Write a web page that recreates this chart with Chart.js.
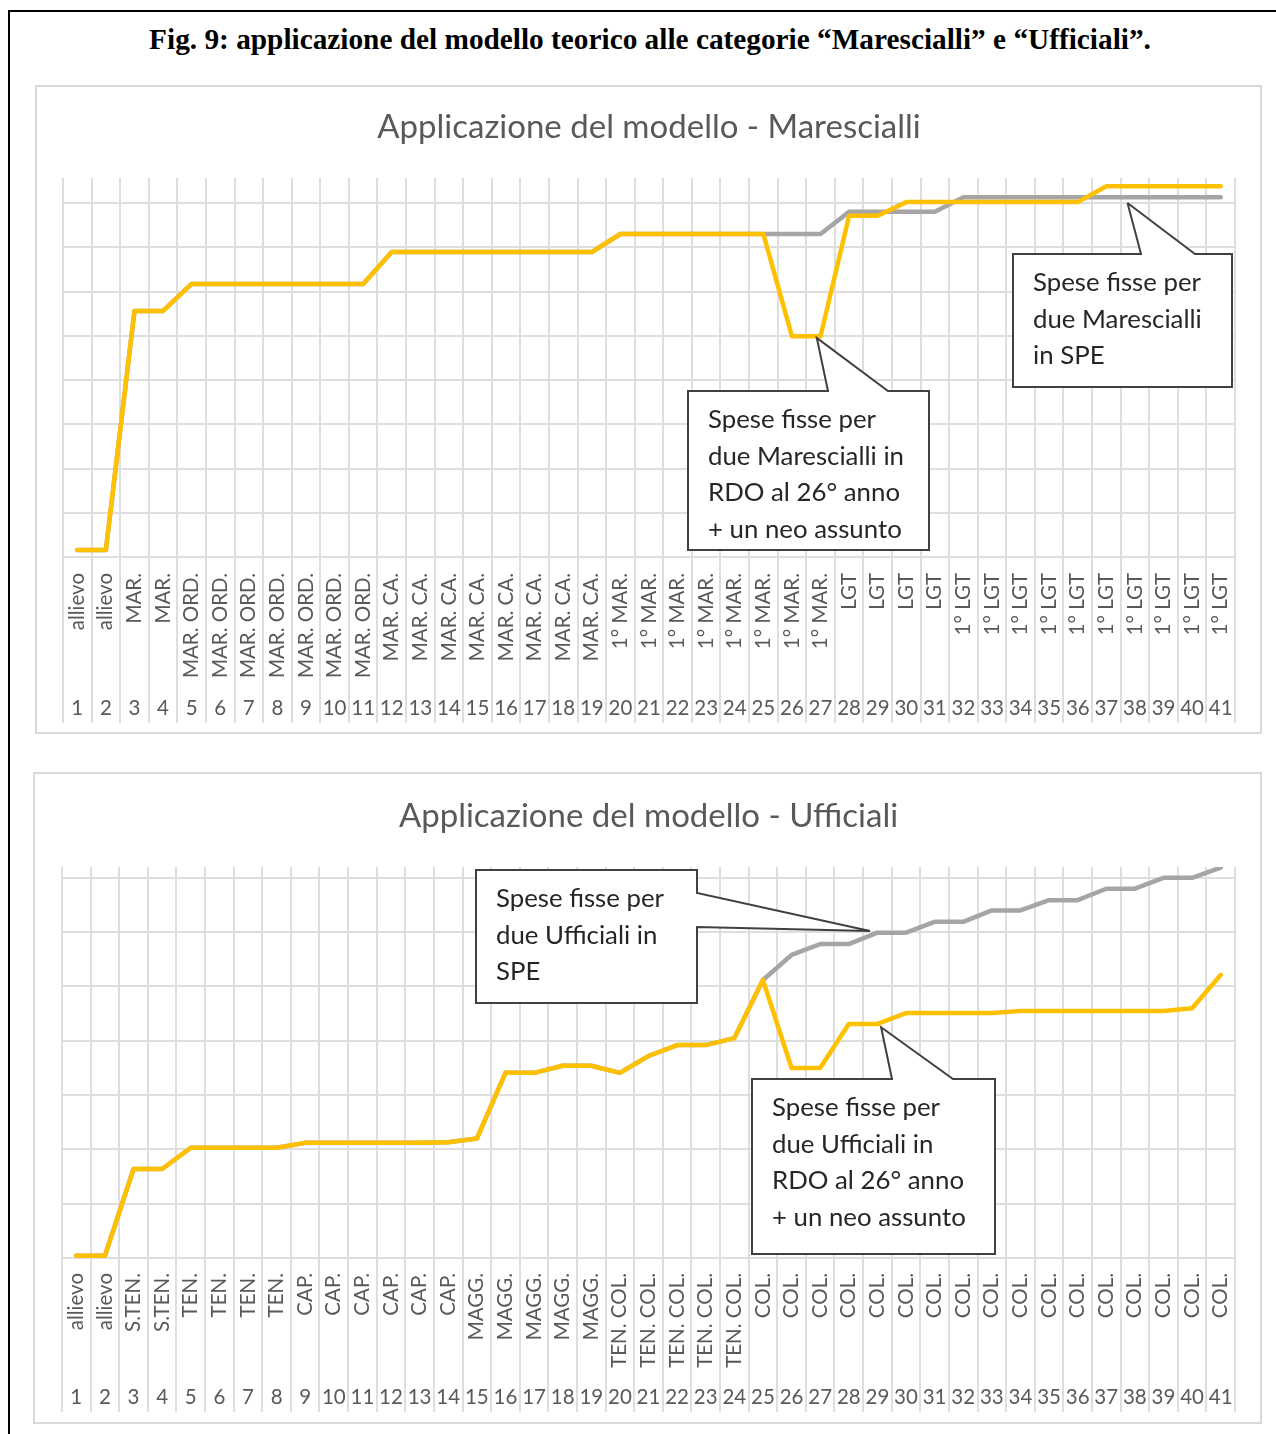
<!DOCTYPE html>
<html>
<head>
<meta charset="utf-8">
<script src="https://cdn.jsdelivr.net/npm/chart.js@4.4.1/dist/chart.umd.min.js"></script>
<style>
  body { margin: 0; background: #fff; }
  #frame { position: absolute; left: 8px; top: 10px; width: 1400px; height: 1500px; border-left: 2px solid #000; border-top: 2px solid #000; }
  h1 { position: absolute; left: 0; top: 22px; width: 1300px; margin: 0; text-align: center; font: bold 29.3px/34px "Liberation Serif"; color: #000; }
  canvas { position: absolute; }
</style>
</head>
<body>
<div id="frame"></div>
<h1>Fig. 9: applicazione del modello teorico alle categorie “Marescialli” e “Ufficiali”.</h1>
<canvas id="marescialli" width="1227" height="649" style="left:35px;top:85px"></canvas>
<canvas id="ufficiali" width="1229" height="652" style="left:33px;top:772px"></canvas>
<script>
// anni di servizio (etichetta numerica sotto ogni grado)
const years = ['1', '2', '3', '4', '5', '6', '7', '8', '9', '10', '11', '12', '13', '14',
  '15', '16', '17', '18', '19', '20', '21', '22', '23', '24', '25', '26', '27', '28',
  '29', '30', '31', '32', '33', '34', '35', '36', '37', '38', '39', '40', '41'];

const gradiMarescialli = ['allievo', 'allievo', 'MAR.', 'MAR.',
  'MAR. ORD.', 'MAR. ORD.', 'MAR. ORD.', 'MAR. ORD.', 'MAR. ORD.', 'MAR. ORD.', 'MAR. ORD.',
  'MAR. CA.', 'MAR. CA.', 'MAR. CA.', 'MAR. CA.', 'MAR. CA.', 'MAR. CA.', 'MAR. CA.', 'MAR. CA.',
  '1° MAR.', '1° MAR.', '1° MAR.', '1° MAR.', '1° MAR.', '1° MAR.', '1° MAR.', '1° MAR.',
  'LGT', 'LGT', 'LGT', 'LGT',
  '1° LGT', '1° LGT', '1° LGT', '1° LGT', '1° LGT', '1° LGT', '1° LGT', '1° LGT', '1° LGT', '1° LGT'];

// spese fisse: due marescialli in RDO al 26° anno + un neo assunto (giallo)
const marescialliRdo = [0.16, 0.16, 5.56, 5.56, 6.17, 6.17, 6.17, 6.17, 6.17, 6.17, 6.17,
  6.89, 6.89, 6.89, 6.89, 6.89, 6.89, 6.89, 6.89, 7.30, 7.30, 7.30, 7.30, 7.30, 7.30,
  4.99, 4.99, 7.71, 7.71, 8.02, 8.02, 8.02, 8.02, 8.02, 8.02, 8.02, 8.38, 8.38, 8.38, 8.38, 8.38];

// spese fisse: due marescialli in SPE (grigio)
const marescialliSpe = [0.16, 0.16, 5.56, 5.56, 6.17, 6.17, 6.17, 6.17, 6.17, 6.17, 6.17,
  6.89, 6.89, 6.89, 6.89, 6.89, 6.89, 6.89, 6.89, 7.30, 7.30, 7.30, 7.30, 7.30, 7.30,
  7.30, 7.30, 7.80, 7.80, 7.80, 7.80, 8.13, 8.13, 8.13, 8.13, 8.13, 8.13, 8.13, 8.13, 8.13, 8.13];

const gradiUfficiali = ['allievo', 'allievo', 'S.TEN.', 'S.TEN.',
  'TEN.', 'TEN.', 'TEN.', 'TEN.',
  'CAP.', 'CAP.', 'CAP.', 'CAP.', 'CAP.', 'CAP.',
  'MAGG.', 'MAGG.', 'MAGG.', 'MAGG.', 'MAGG.',
  'TEN. COL.', 'TEN. COL.', 'TEN. COL.', 'TEN. COL.', 'TEN. COL.',
  'COL.', 'COL.', 'COL.', 'COL.', 'COL.', 'COL.', 'COL.', 'COL.', 'COL.',
  'COL.', 'COL.', 'COL.', 'COL.', 'COL.', 'COL.', 'COL.', 'COL.'];

const ufficialiRdo = [0.04, 0.04, 1.64, 1.64, 2.03, 2.03, 2.03, 2.03, 2.12, 2.12, 2.12, 2.12,
  2.12, 2.13, 2.20, 3.41, 3.41, 3.54, 3.54, 3.41, 3.72, 3.92, 3.92, 4.05, 5.12,
  3.50, 3.50, 4.31, 4.31, 4.51, 4.51, 4.51, 4.51, 4.55, 4.55, 4.55, 4.55, 4.55, 4.55, 4.60, 5.21];

const ufficialiSpe = [0.04, 0.04, 1.64, 1.64, 2.03, 2.03, 2.03, 2.03, 2.12, 2.12, 2.12, 2.12,
  2.12, 2.13, 2.20, 3.41, 3.41, 3.54, 3.54, 3.41, 3.72, 3.92, 3.92, 4.05, 5.12,
  5.58, 5.78, 5.78, 5.99, 5.99, 6.19, 6.19, 6.40, 6.40, 6.59, 6.59, 6.80, 6.80, 7.00, 7.00, 7.19];

const GRID = '#dedede';
const TEXT = '#595959';
const YELLOW = '#ffc000';
const GREY = '#a5a5a5';
const FONT = 'Lato';
const TITLE_SIZE = 33;
const LABEL_SIZE = 20.5;
const NOTE_SIZE = 25.8;

Chart.defaults.font.family = FONT;

const panel = {
  id: 'panel',
  beforeDraw(chart) {
    const {ctx, width, height} = chart;
    ctx.save();
    ctx.fillStyle = '#fff';
    ctx.fillRect(0, 0, width, height);
    ctx.strokeStyle = '#d9d9d9';
    ctx.lineWidth = 2;
    ctx.strokeRect(1, 1, width - 2, height - 2);
    ctx.restore();
  },
};

// prolunga le linee verticali della griglia nella zona delle etichette
const dividers = {
  id: 'dividers',
  beforeDatasetsDraw(chart) {
    const {ctx, chartArea} = chart;
    const x = chart.scales.x;
    const bottom = chart.scales.x2.bottom;
    ctx.save();
    ctx.strokeStyle = GRID;
    ctx.lineWidth = 2;
    ctx.beginPath();
    for (let i = 0; i <= x.ticks.length; i++) {
      const px = Math.round(x.getPixelForValue(i - 0.5));
      ctx.moveTo(px, chartArea.bottom);
      ctx.lineTo(px, bottom);
    }
    ctx.stroke();
    ctx.restore();
  },
};

function callouts(items) {
  return {
    id: 'callouts',
    afterDatasetsDraw(chart) {
      const {ctx} = chart;
      const xs = chart.scales.x;
      const ys = chart.scales.y;
      items.forEach((c) => {
        const tx = xs.getPixelForValue(c.tip[0]);
        const ty = ys.getPixelForValue(c.tip[1]);
        const [l, t, r, b] = c.box;
        ctx.save();
        ctx.beginPath();
        ctx.moveTo(l, t);
        if (c.side === 'top') {
          ctx.lineTo(c.base[0], t);
          ctx.lineTo(tx, ty);
          ctx.lineTo(c.base[1], t);
          ctx.lineTo(r, t);
          ctx.lineTo(r, b);
        } else {
          ctx.lineTo(r, t);
          ctx.lineTo(r, c.base[0]);
          ctx.lineTo(tx, ty);
          ctx.lineTo(r, c.base[1]);
          ctx.lineTo(r, b);
        }
        ctx.lineTo(l, b);
        ctx.closePath();
        ctx.fillStyle = '#fff';
        ctx.fill();
        ctx.strokeStyle = '#404040';
        ctx.lineWidth = 2;
        ctx.miterLimit = 3;
        ctx.stroke();
        ctx.fillStyle = '#262626';
        ctx.font = NOTE_SIZE + 'px ' + FONT;
        ctx.textBaseline = 'middle';
        c.lines.forEach((s, i) => ctx.fillText(s, l + 20, t + 29 + 36.4 * i));
        ctx.restore();
      });
    },
  };
}

function buildChart(id, cfg) {
  return new Chart(document.getElementById(id), {
    type: 'line',
    data: {
      labels: cfg.ranks,
      datasets: [
        {label: 'RDO', data: cfg.rdo, borderColor: YELLOW},
        {label: 'SPE', data: cfg.spe, borderColor: GREY},
      ],
    },
    options: {
      responsive: false,
      animation: false,
      events: [],
      layout: {
        padding: {left: cfg.pad[0], right: cfg.pad[1], top: 0, bottom: cfg.pad[2]},
        autoPadding: false,
      },
      plugins: {
        legend: {display: false},
        tooltip: {enabled: false},
        title: {
          display: true,
          text: cfg.title,
          color: TEXT,
          font: {size: TITLE_SIZE, weight: 'normal', lineHeight: 1.2},
          padding: {top: cfg.titlePad[0], bottom: cfg.titlePad[1]},
        },
      },
      elements: {
        line: {tension: 0, borderWidth: 4.5, borderJoinStyle: 'round', borderCapStyle: 'round', fill: false},
        point: {radius: 0},
      },
      scales: {
        x: {
          offset: true,
          grid: {offset: true, color: GRID, lineWidth: 2, drawTicks: false},
          border: {display: false},
          ticks: {
            autoSkip: false, minRotation: 90, maxRotation: 90,
            color: TEXT, font: {size: LABEL_SIZE}, padding: cfg.namePad,
          },
          afterFit: (s) => { s.height = cfg.nameH; },
        },
        x2: {
          type: 'category',
          position: 'bottom',
          weight: 1,
          labels: years,
          offset: true,
          grid: {display: false, drawTicks: false},
          border: {display: false},
          ticks: {autoSkip: false, maxRotation: 0, color: TEXT, font: {size: LABEL_SIZE}, padding: cfg.numPad},
          afterFit: (s) => { s.height = cfg.numH; },
        },
        y: {
          min: 0,
          max: cfg.yMax,
          grid: {color: GRID, lineWidth: 2, drawTicks: false},
          border: {display: false},
          ticks: {display: false, stepSize: 1, includeBounds: false},
          afterFit: (s) => { s.width = 0; },
        },
      },
    },
    plugins: [panel, dividers, callouts(cfg.notes)],
  });
}

buildChart('marescialli', {
  title: 'Applicazione del modello - Marescialli',
  ranks: gradiMarescialli,
  rdo: marescialliRdo,
  spe: marescialliSpe,
  yMax: 8.565,
  pad: [28, 27, 11],
  titlePad: [23, 30.4],
  namePad: 16,
  nameH: 126,
  numPad: 13,
  numH: 40,
  notes: [
    {box: [653, 306, 894, 465], side: 'top', base: [793, 853], tip: [25.87, 4.95],
      lines: ['Spese fisse per', 'due Marescialli in', 'RDO al 26° anno', '+ un neo assunto']},
    {box: [978, 169, 1197, 302], side: 'top', base: [1106, 1160], tip: [36.74, 8.0],
      lines: ['Spese fisse per', 'due Marescialli', 'in SPE']},
  ],
});

buildChart('ufficiali', {
  title: 'Applicazione del modello - Ufficiali',
  ranks: gradiUfficiali,
  rdo: ufficialiRdo,
  spe: ufficialiSpe,
  yMax: 7.2,
  pad: [29, 27, 12],
  titlePad: [24.5, 30.9],
  namePad: 15,
  nameH: 118,
  numPad: 9,
  numH: 36,
  notes: [
    {box: [443, 98, 664, 231], side: 'right', base: [121, 155], tip: [27.74, 6.02],
      lines: ['Spese fisse per', 'due Ufficiali in', 'SPE']},
    {box: [719, 307, 962, 482], side: 'top', base: [859, 920], tip: [28.13, 4.25],
      lines: ['Spese fisse per', 'due Ufficiali in', 'RDO al 26° anno', '+ un neo assunto']},
  ],
});
</script>
</body>
</html>
